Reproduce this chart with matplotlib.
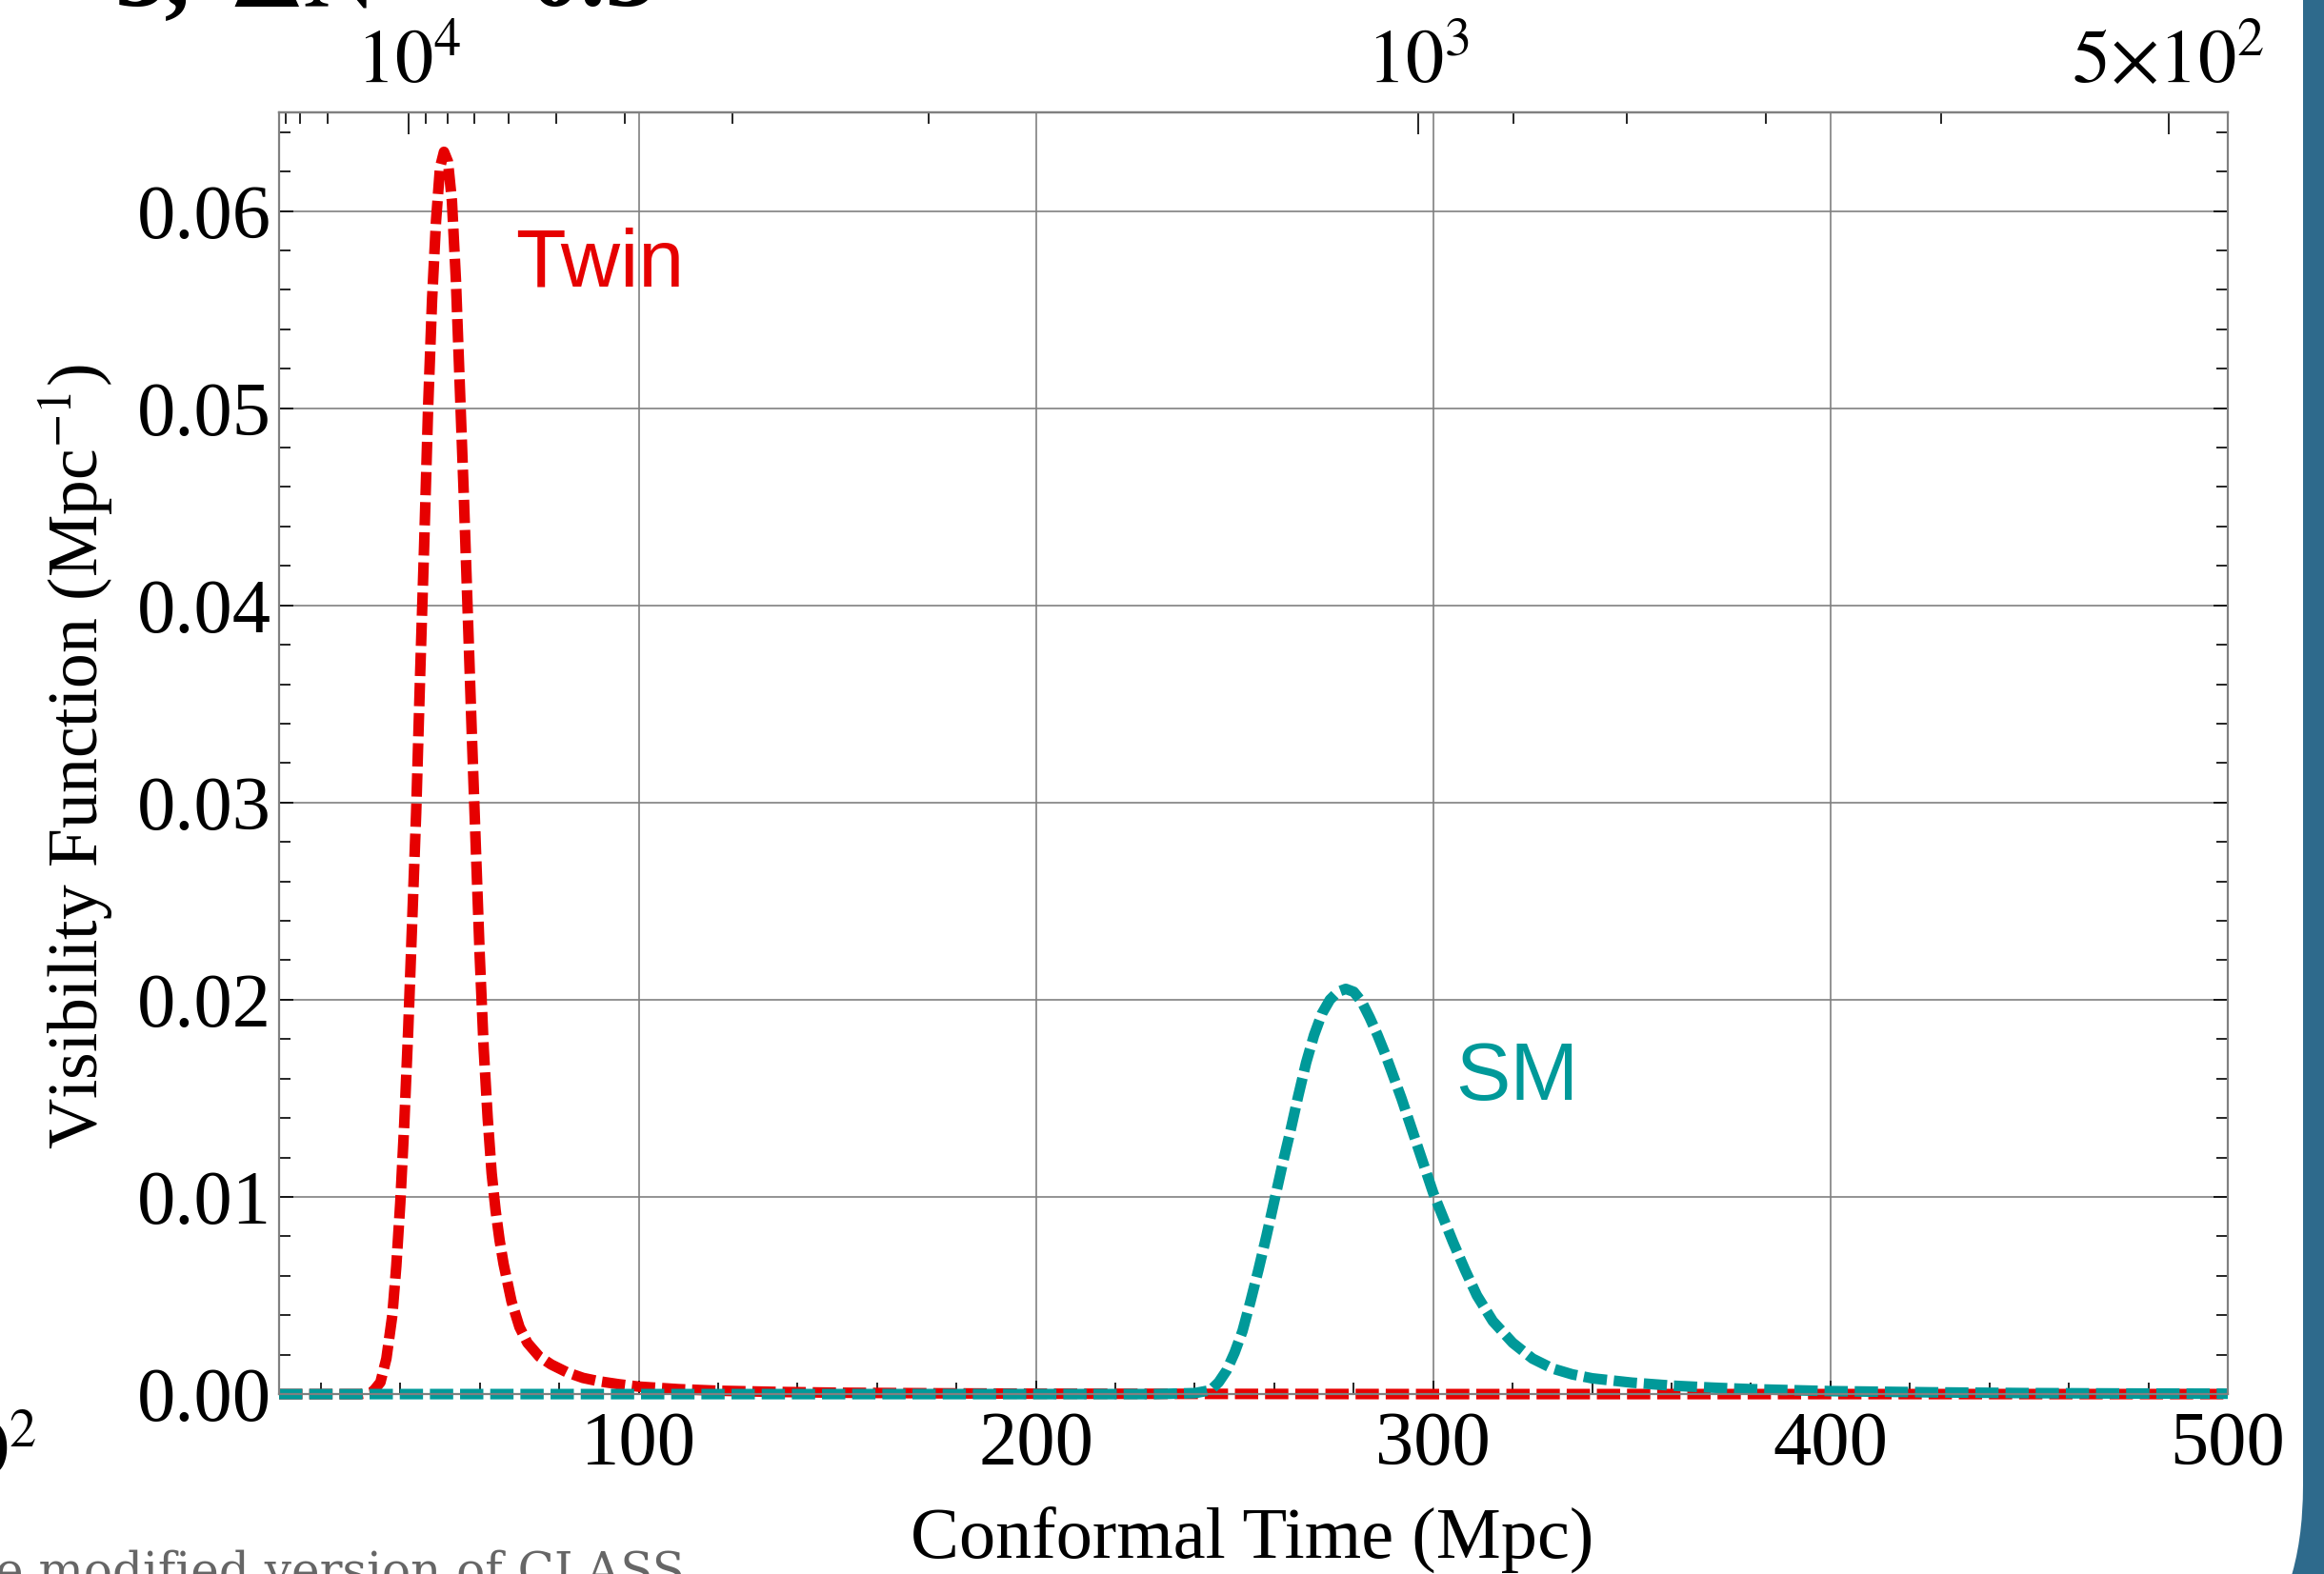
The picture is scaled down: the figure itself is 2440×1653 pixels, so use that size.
import numpy as np
import matplotlib.pyplot as plt
from matplotlib.patches import FancyBboxPatch
from matplotlib.ticker import MultipleLocator, FixedLocator, FormatStrFormatter

plt.rcParams['font.family'] = ['Liberation Serif', 'DejaVu Serif']
plt.rcParams['mathtext.fontset'] = 'stix'

# visibility function of the twin sector
tau_twin = [9.5, 20, 30, 33, 35, 36.5, 38, 39, 40, 41, 42, 43, 44, 45, 46, 47,
            48, 49, 50, 51, 52, 53, 54, 55, 56, 57, 58, 59, 60, 61, 62, 63, 64,
            65, 66, 68, 70, 72, 75, 78, 82, 86, 90, 95, 100, 110, 120, 135, 150,
            175, 200, 250, 300, 400, 500]
g_twin = [0, 0, 0, 0.0001, 0.0006, 0.0018, 0.004, 0.0065, 0.0097, 0.0137,
          0.0185, 0.024, 0.0295, 0.0365, 0.043, 0.050, 0.0555, 0.0595, 0.0622,
          0.0630, 0.0625, 0.0605, 0.0565, 0.051, 0.0455, 0.0395, 0.0335, 0.0278,
          0.0222, 0.0175, 0.0140, 0.0112, 0.0093, 0.0078, 0.0066, 0.0047, 0.0034,
          0.0026, 0.0019, 0.0015, 0.0011, 0.00082, 0.00065, 0.0005, 0.00038,
          0.00025, 0.00017, 0.00011, 0.00007, 0.00004, 0.00002, 0.00001, 0, 0, 0]

# visibility function of the SM sector (teal curve)
tau_sm = [9.5, 100, 200, 230, 240, 244, 246, 248, 250, 252, 254, 256, 258, 260,
          262, 264, 266, 268, 270, 272, 274, 276, 278, 280, 282, 284, 286, 288,
          290, 292, 294, 296, 298, 300, 302, 305, 308, 311, 315, 320, 325, 330,
          335, 340, 350, 360, 370, 380, 400, 425, 450, 475, 500]
g_sm = [0, 0, 0, 0, 0.00005, 0.0002, 0.0006, 0.0012, 0.0021, 0.0032, 0.0047,
        0.0063, 0.0080, 0.0098, 0.0116, 0.0133, 0.0151, 0.0168, 0.0182, 0.0193,
        0.0200, 0.0204, 0.02055, 0.0204, 0.0199, 0.0191, 0.0182, 0.0172, 0.0161,
        0.0150, 0.0138, 0.0126, 0.0114, 0.0102, 0.0092, 0.0077, 0.0063, 0.0050,
        0.0037, 0.0026, 0.0018, 0.0013, 0.0010, 0.0008, 0.00058, 0.00043,
        0.00033, 0.00025, 0.00015, 0.00009, 0.00005, 0.00003, 0.00002]

x_major = [100, 200, 300, 400, 500]
y_major = [0.00, 0.01, 0.02, 0.03, 0.04, 0.05, 0.06]

z_major = [1e4, 1e3, 5e2]
z_labels = [r'$10^{4}$', r'$10^{3}$', r'$5{\times}10^{2}$']
z_minor = [4e4, 3e4, 2e4, 9e3, 8e3, 7e3, 6e3, 5e3, 4e3, 3e3, 2e3,
           900, 800, 700, 600]

# conformal time <-> redshift (matter + radiation)
A_TAU = 15948.0
A_EQ = 3.1e-4


def z_to_tau(z):
    z = np.asarray(z, dtype=float)
    a = 1.0 / np.clip(1.0 + z, 1e-12, None)
    return A_TAU * (np.sqrt(a + A_EQ) - np.sqrt(A_EQ))


def tau_to_z(tau):
    tau = np.clip(np.asarray(tau, dtype=float), 1e-6, None)
    a = (tau / A_TAU + np.sqrt(A_EQ)) ** 2 - A_EQ
    return 1.0 / a - 1.0


red = '#e60000'
teal = '#009999'
dash = (0, (2.2, 0.65))

fig = plt.figure(figsize=(12.2, 8.265), dpi=200)
fig.patch.set_facecolor('#2e6a8c')
panel = FancyBboxPatch((-2.0, -0.72), 14.09, 12.0,
                       boxstyle='round,pad=0,rounding_size=1.185',
                       transform=fig.dpi_scale_trans, fc='white', ec='none',
                       zorder=-10)
fig.add_artist(panel)

ax = fig.add_axes([0.1201, 0.1143, 0.8385, 0.8143])
ax.set_facecolor('white')

ax.plot(tau_twin, g_twin, color=red, lw=4, ls=dash, clip_on=False)
ax.plot(tau_sm, g_sm, color=teal, lw=4, ls=dash, clip_on=False)

ax.set_xlim(9.5, 500)
ax.set_ylim(0, 0.065)

ax.set_xticks(x_major)
ax.xaxis.set_minor_locator(MultipleLocator(20))
ax.set_yticks(y_major)
ax.yaxis.set_minor_locator(MultipleLocator(0.002))
ax.yaxis.set_major_formatter(FormatStrFormatter('%.2f'))

ax.grid(True, which='major', color='#808080', lw=0.6)
for sp in ax.spines.values():
    sp.set_color('#808080')
    sp.set_linewidth(0.8)

ax.tick_params(axis='both', which='both', direction='in', width=0.6,
               labelsize=29, right=True, top=False)
ax.tick_params(axis='x', which='major', length=5, pad=6.5)
ax.tick_params(axis='x', which='minor', length=4.3)
ax.tick_params(axis='y', which='major', length=5.5, pad=3)
ax.tick_params(axis='y', which='minor', length=4.4)

secax = ax.secondary_xaxis('top', functions=(tau_to_z, z_to_tau))
secax.set_xticks(z_major, labels=z_labels)
secax.xaxis.set_minor_locator(FixedLocator(z_minor))
secax.tick_params(axis='x', which='major', direction='in', length=8.3,
                  width=0.6, labelsize=29, pad=5)
secax.tick_params(axis='x', which='minor', direction='in', length=4.3,
                  width=0.6)
secax.spines['top'].set_color('#808080')
secax.spines['top'].set_linewidth(0.8)

ax.text(69, 0.0562, 'Twin', color=red, fontsize=31,
        family=['Liberation Sans', 'DejaVu Sans'], ha='left', va='baseline')
ax.text(305.6, 0.01494, 'SM', color=teal, fontsize=31,
        family=['Liberation Sans', 'DejaVu Sans'], ha='left', va='baseline')

fig.text(0.539, 0.0097, 'Conformal Time (Mpc)', fontsize=27.5,
         ha='center', va='baseline')
fig.text(0.0328, 0.5197, r'Visibility Function (Mpc$^{-1}$)', fontsize=26.5,
         rotation=90, ha='center', va='center')

# pieces of the slide that fall inside the crop
fig.text(0.0156, 0.0635, r'$10^{2}$', fontsize=29, ha='right', va='baseline')
fig.text(-0.002, -0.0073, 'e modified version of CLASS', fontsize=18,
         color='#666666', family=['DejaVu Serif'], ha='left', va='baseline')
fig.text(121 / 2440, 1 - 6 / 1653, '3,', fontsize=38, ha='left',
         va='baseline', weight='bold')
fig.text(242 / 2440, 1 - 6 / 1653, r'$\mathbf{\Delta N}$', fontsize=38,
         ha='left', va='baseline')
fig.text(470 / 2440, 1 - 6 / 1653, '= 0.3', fontsize=38, ha='left',
         va='baseline', weight='bold')

fig.savefig('out.png', dpi=200)
